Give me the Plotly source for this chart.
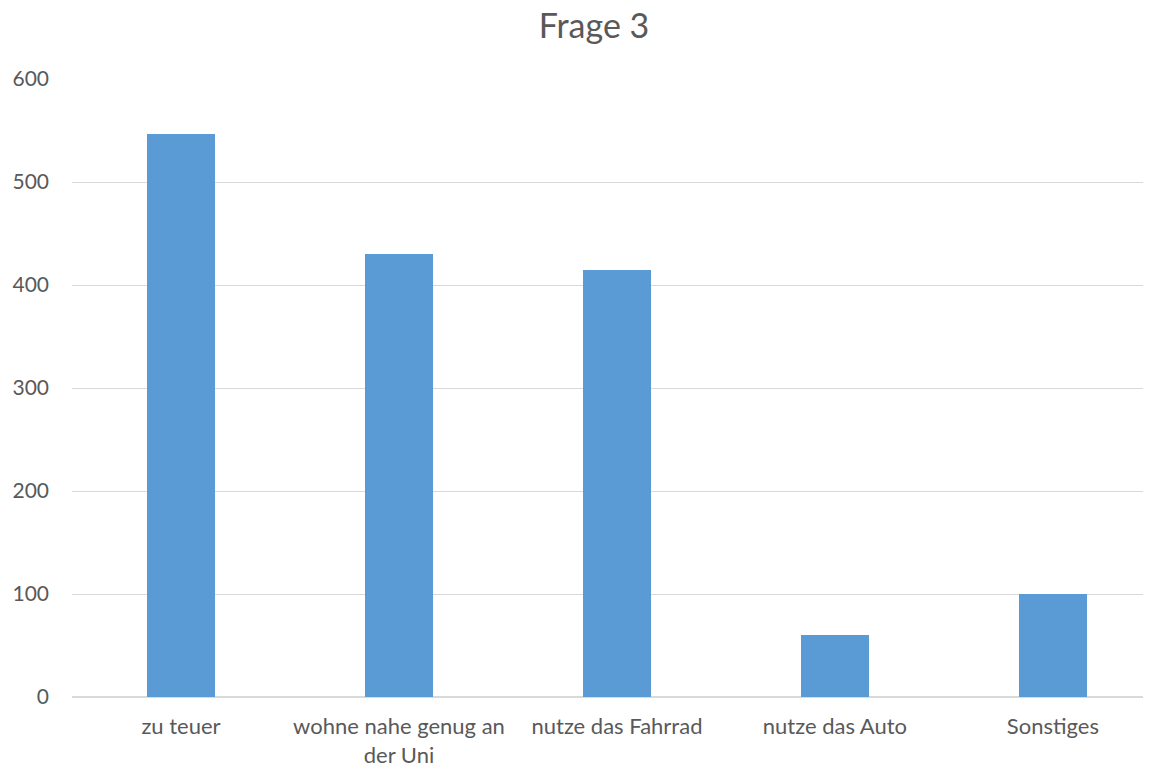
import plotly.graph_objects as go

categories = ["zu teuer", "wohne nahe genug an<br>der Uni", "nutze das Fahrrad", "nutze das Auto", "Sonstiges"]
values = [547, 430, 415, 60, 100]
y_ticks = [0, 100, 200, 300, 400, 500, 600]

fig = go.Figure(go.Bar(x=list(range(len(categories))), y=values, width=0.31,
                       marker=dict(color="#5B9BD5", line=dict(width=0))))

# page body has an 8px margin, so the figure is sized/offset accordingly
fig.update_layout(
    width=1143, height=759,
    paper_bgcolor="white", plot_bgcolor="white",
    margin=dict(l=64, r=0, t=71, b=70),
    title=dict(text="Frage 3", x=0.5127, xanchor="center", y=0.9763, yanchor="middle",
               font=dict(family="Lato, sans-serif", size=34, color="#595959")),
    font=dict(family="Lato, sans-serif", size=21, color="#595959"),
    showlegend=False,
    bargap=0,
)
fig.update_xaxes(range=[-0.5, 4.45], tickvals=list(range(len(categories))), ticktext=categories,
                 showgrid=False, zeroline=False, showline=False, ticks="", ticklabelstandoff=14,
                 tickfont=dict(size=22, color="#595959"))
fig.update_yaxes(range=[0, 600], tickvals=y_ticks, showgrid=True, gridcolor="#D9D9D9", gridwidth=1.3,
                 zeroline=True, zerolinecolor="#D9D9D9", zerolinewidth=1.5, showline=False, ticks="",
                 ticklabelstandoff=22, tickfont=dict(size=21, color="#595959"))

fig.write_html("out.html")
